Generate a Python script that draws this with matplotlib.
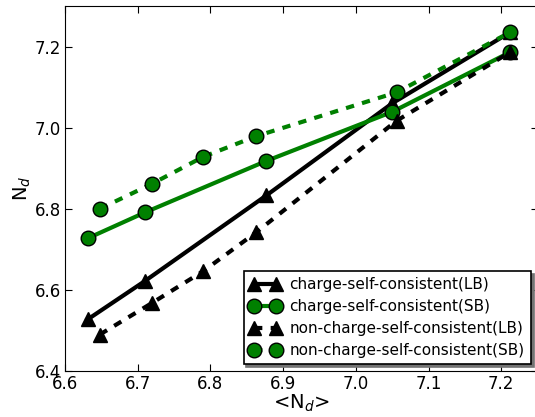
import matplotlib
matplotlib.use("Agg")
import matplotlib.pyplot as plt

# charge-self-consistent runs
csc_nd_avg = [6.631, 6.710, 6.877, 7.050, 7.212]
csc_lb = [6.527, 6.622, 6.833, 7.060, 7.235]
csc_sb = [6.727, 6.791, 6.918, 7.039, 7.186]

# non-charge-self-consistent runs
nsc_nd_avg = [6.648, 6.719, 6.790, 6.863, 7.056, 7.212]
nsc_lb = [6.490, 6.567, 6.646, 6.742, 7.017, 7.186]
nsc_sb = [6.800, 6.861, 6.928, 6.979, 7.087, 7.235]

labels = ["charge-self-consistent(LB)", "charge-self-consistent(SB)",
          "non-charge-self-consistent(LB)", "non-charge-self-consistent(SB)"]

plt.rcParams['font.family'] = ['DejaVu Sans']
plt.rcParams['mathtext.fontset'] = 'dejavusans'

fig = plt.figure(figsize=(5.35, 4.17), dpi=100)
# right spine falls just outside the picture, as in the cropped original
ax = fig.add_axes([0.1215, 0.1103, 0.8834, 0.8753])

dash = (0, (2, 2))
ms = 10.5
ax.plot(csc_nd_avg, csc_lb, color='black', marker='^', ls='-', lw=3,
        ms=ms, mec='black', label=labels[0])
ax.plot(csc_nd_avg, csc_sb, color='green', marker='o', ls='-', lw=3,
        ms=ms, mec='black', mew=1, label=labels[1])
ax.plot(nsc_nd_avg, nsc_lb, color='black', marker='^', ls=dash, lw=3,
        ms=ms, mec='black', label=labels[2])
ax.plot(nsc_nd_avg, nsc_sb, color='green', marker='o', ls=dash, lw=3,
        ms=ms, mec='black', mew=1, label=labels[3])

ax.set_xlim(6.6, 7.25)
ax.set_ylim(6.4, 7.3)
ax.set_xticks([6.6, 6.7, 6.8, 6.9, 7.0, 7.1, 7.2])
ax.set_yticks([6.4, 6.6, 6.8, 7.0, 7.2])
ax.tick_params(direction='in', top=True, right=True, labelsize=12,
               length=5, width=0.8, pad=3)

ax.set_xlabel(r'<N$_d$>', fontsize=14, labelpad=0)
ax.set_ylabel(r'N$_d$', fontsize=14, labelpad=1)

leg = ax.legend(loc='lower right', numpoints=2, fontsize=11,
                shadow={'color': '0.45', 'alpha': 1},
                fancybox=False, framealpha=1, borderaxespad=0.45,
                handlelength=2, handletextpad=0.6, labelspacing=0.45,
                borderpad=0.4)
leg.get_frame().set_edgecolor('black')
leg.get_frame().set_linewidth(1.2)

fig.savefig('out.png', dpi=100)
